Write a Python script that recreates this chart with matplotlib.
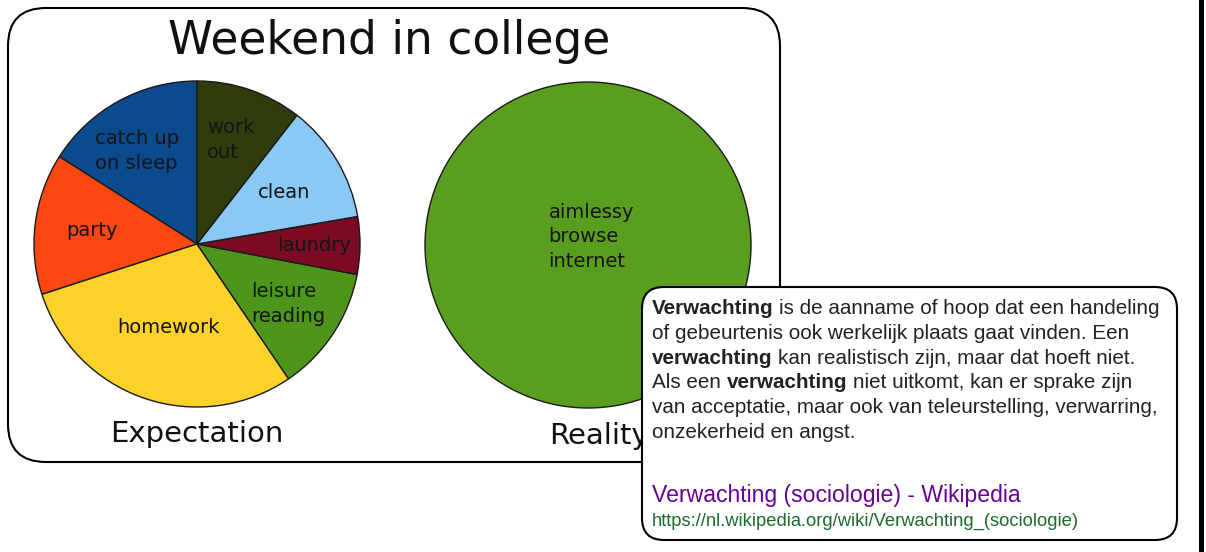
import matplotlib
matplotlib.use("Agg")
import matplotlib.pyplot as plt
from matplotlib.patches import FancyBboxPatch, Rectangle
import numpy as np

W, H = 1206, 552

# ---------------- data ----------------
title = "Weekend in college"
expect_labels = ["catch up\non sleep", "party", "homework", "leisure\nreading",
                 "laundry", "clean", "work\nout"]
expect_values = [16.0, 14.0, 29.5, 12.5, 5.7, 11.8, 10.5]
expect_colors = ["#0b4a8c", "#fb4812", "#fcd12a", "#4e961b",
                 "#7c0a22", "#8ac8f6", "#2f3c0c"]
reality_labels = ["aimlessy\nbrowse\ninternet"]
reality_values = [100.0]
reality_colors = ["#5a9e1f"]
subtitles = ["Expectation", "Reality"]

snippet_lines = [
    [("Verwachting", True), ("is de aanname of hoop dat een handeling", False)],
    [("of gebeurtenis ook werkelijk plaats gaat vinden. Een", False)],
    [("verwachting", True), ("kan realistisch zijn, maar dat hoeft niet.", False)],
    [("Als een", False), ("verwachting", True), ("niet uitkomt, kan er sprake zijn", False)],
    [("van acceptatie, maar ook van teleurstelling, verwarring,", False)],
    [("onzekerheid en angst.", False)],
]
link_title = "Verwachting (sociologie) - Wikipedia"
link_url = "https://nl.wikipedia.org/wiki/Verwachting_(sociologie)"

# ---------------- figure ----------------
fig = plt.figure(figsize=(W / 100, H / 100), dpi=100)
fig.patch.set_facecolor("white")

bg = fig.add_axes([0, 0, 1, 1], zorder=0)
bg.set_xlim(0, W)
bg.set_ylim(H, 0)
bg.axis("off")

# outer chart card
bg.add_patch(FancyBboxPatch((8, 8), 772, 454,
                            boxstyle="round,pad=0,rounding_size=38",
                            fc="white", ec="black", lw=1.5))
# black bar at the right edge
bg.add_patch(Rectangle((1199, 0), 5, H, fc="black", ec="none"))

bg.text(389, 54, title, fontsize=32.8, ha="center", va="baseline",
        family="DejaVu Sans", color="#111111")
bg.text(197, 442, subtitles[0], fontsize=21, ha="center", va="baseline",
        family="DejaVu Sans", color="#111111")
bg.text(599, 444, subtitles[1], fontsize=21, ha="center", va="baseline",
        family="DejaVu Sans", color="#111111")


def pie_axes(cx, cy, r, pad=1.04):
    half = r * pad
    ax = fig.add_axes([(cx - half) / W, (H - cy - half) / H,
                       2 * half / W, 2 * half / H], zorder=1)
    return ax, pad


# expectation pie
ax1, p1 = pie_axes(197, 244, 163)
wedges1, _ = ax1.pie(expect_values, colors=expect_colors, startangle=90,
                     counterclock=True,
                     wedgeprops=dict(edgecolor="#1a1a1a", linewidth=1.0))
ax1.set_xlim(-p1, p1)
ax1.set_ylim(-p1, p1)
ax1.axis("off")
label_dist = [0.68, 0.65, 0.54, 0.67, 0.72, 0.62, 0.67]
label_shift = [4, 0, 0, 0, 0, 0, 1]
for w, lab, rd, sh in zip(wedges1, expect_labels, label_dist, label_shift):
    ang = np.deg2rad((w.theta1 + w.theta2) / 2 + sh)
    ax1.text(rd * np.cos(ang), rd * np.sin(ang), lab, ha="center", va="center",
             multialignment="left", fontsize=14, color="#141414",
             family="DejaVu Sans", linespacing=1.38)

# reality pie
ax2, p2 = pie_axes(588, 245, 163)
wedges2, _ = ax2.pie(reality_values, colors=reality_colors, startangle=90,
                     wedgeprops=dict(edgecolor="#1a1a1a", linewidth=1.0))
ax2.set_xlim(-p2, p2)
ax2.set_ylim(-p2, p2)
ax2.axis("off")
ax2.text(0.02, 0.05, reality_labels[0], ha="center", va="center",
         multialignment="left", fontsize=14, color="#141414",
         family="DejaVu Sans", linespacing=1.38)

# ---------------- snippet card (overlay) ----------------
ov = fig.add_axes([0, 0, 1, 1], zorder=5)
ov.set_xlim(0, W)
ov.set_ylim(H, 0)
ov.axis("off")
ov.patch.set_alpha(0)
ov.add_patch(FancyBboxPatch((642, 287), 535, 253,
                            boxstyle="round,pad=0,rounding_size=22",
                            fc="white", ec="black", lw=1.5))

renderer = fig.canvas.get_renderer()
body_fs = 14.9
font = "Liberation Sans"


def text_w(s, bold=False, fs=body_fs):
    t = ov.text(0, 0, s, fontsize=fs, family=font,
                weight="bold" if bold else "normal")
    wpx = t.get_window_extent(renderer=renderer).width
    t.remove()
    return wpx


space_w = text_w("n n") - text_w("nn")

x0 = 652
y0 = 314
dy = 24.8
for i, segs in enumerate(snippet_lines):
    x = x0
    for s, b in segs:
        ov.text(x, y0 + i * dy, s, fontsize=body_fs, family=font,
                weight="bold" if b else "normal", color="#222222",
                ha="left", va="baseline")
        x += text_w(s, b) + space_w

ov.text(x0, 502, link_title, fontsize=16.6, family=font, color="#660099",
        ha="left", va="baseline")
ov.text(x0, 526, link_url, fontsize=13.2, family=font, color="#1e6b2e",
        ha="left", va="baseline")

fig.savefig("out.png", dpi=100, facecolor="white")
